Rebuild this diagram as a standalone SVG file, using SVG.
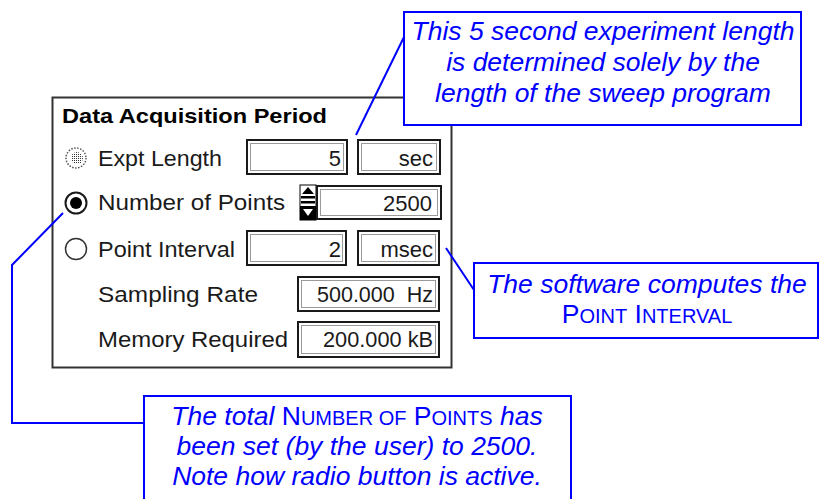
<svg xmlns="http://www.w3.org/2000/svg" width="819" height="499" viewBox="0 0 819 499">
<defs>
<style>
.gui{font-family:"Liberation Sans",Arial,sans-serif;font-size:22px;fill:#1a1a1a}
.title{font-family:"Liberation Sans",Arial,sans-serif;font-size:21px;font-weight:bold;fill:#000}
.val{font-family:"Liberation Sans",Arial,sans-serif;font-size:22px;fill:#1a1a1a;text-anchor:end}
.fo{fill:#fff;stroke:#1a1a1a;stroke-width:2}
.fi{fill:none;stroke:#9a9a9a;stroke-width:1}
.note{font-family:"Liberation Sans",Arial,sans-serif;font-size:26.5px;font-style:italic;fill:#0000ff;text-anchor:middle}
.sc{font-style:normal}
.box{fill:#fff;stroke:#0000ff;stroke-width:2}
.con{fill:none;stroke:#0000ff;stroke-width:2}
</style>
<pattern id="dots" width="2" height="2" patternUnits="userSpaceOnUse"><rect width="1" height="1" fill="#333"/></pattern>
</defs>
<rect width="819" height="499" fill="#fff"/>

<g id="panel">
<rect x="52.5" y="97.5" width="399" height="270" fill="#fff" stroke="#333" stroke-width="2"/>
<text class="title" x="62" y="123" textLength="265" lengthAdjust="spacingAndGlyphs">Data Acquisition Period</text>

<g id="row-expt">
<circle cx="76" cy="158" r="10" fill="none" stroke="#555" stroke-width="1.5" stroke-dasharray="1.5 1.5"/>
<circle cx="77" cy="158" r="6" fill="url(#dots)"/>
<text class="gui" x="98" y="166" textLength="124" lengthAdjust="spacingAndGlyphs">Expt Length</text>
<rect class="fo" x="247" y="140" width="100" height="34"/>
<rect class="fi" x="250.5" y="143.5" width="93" height="27"/>
<text class="val" x="341" y="166">5</text>
<rect class="fo" x="358" y="140" width="82" height="34"/>
<rect class="fi" x="361.5" y="143.5" width="75" height="27"/>
<text class="val" x="433" y="166">sec</text>
</g>

<g id="row-points">
<circle cx="76" cy="203" r="10.5" fill="#fff" stroke="#1a1a1a" stroke-width="2"/>
<circle cx="76" cy="203" r="6" fill="#000"/>
<text class="gui" x="98" y="210" textLength="187" lengthAdjust="spacingAndGlyphs">Number of Points</text>
<rect x="300" y="185" width="16" height="35" fill="#fff" stroke="#000" stroke-width="1"/>
<path d="M302 194 L308 187 L314 194 Z" fill="#000"/>
<rect x="301" y="196" width="14" height="2.5" fill="#000"/>
<rect x="301" y="201" width="14" height="2.5" fill="#000"/>
<rect x="300" y="206" width="16" height="14" fill="#000"/>
<path d="M303 209 L308 216 L313 209 Z" fill="#fff"/>
<rect class="fo" x="317" y="186" width="124" height="33"/>
<rect class="fi" x="320.5" y="189.5" width="117" height="26"/>
<text class="val" x="432" y="211">2500</text>
</g>

<g id="row-interval">
<circle cx="76" cy="249" r="10.5" fill="#fff" stroke="#333" stroke-width="1.5"/>
<text class="gui" x="98" y="257" textLength="137" lengthAdjust="spacingAndGlyphs">Point Interval</text>
<rect class="fo" x="247" y="231" width="99" height="34"/>
<rect class="fi" x="250.5" y="234.5" width="92" height="27"/>
<text class="val" x="341" y="257">2</text>
<rect class="fo" x="358" y="231" width="81" height="34"/>
<rect class="fi" x="361.5" y="234.5" width="74" height="27"/>
<text class="val" x="433" y="257">msec</text>
</g>

<g id="row-rate">
<text class="gui" x="98" y="302" textLength="160" lengthAdjust="spacingAndGlyphs">Sampling Rate</text>
<rect class="fo" x="298" y="277" width="141" height="34"/>
<rect class="fi" x="301.5" y="280.5" width="134" height="27"/>
<text class="val" x="317" y="302" textLength="116" lengthAdjust="spacingAndGlyphs" style="text-anchor:start">500.000&#160; Hz</text>
</g>

<g id="row-memory">
<text class="gui" x="98" y="347" textLength="190" lengthAdjust="spacingAndGlyphs">Memory Required</text>
<rect class="fo" x="298" y="322" width="141" height="35"/>
<rect class="fi" x="301.5" y="325.5" width="134" height="28"/>
<text class="val" x="323" y="347" textLength="110" lengthAdjust="spacingAndGlyphs" style="text-anchor:start">200.000 kB</text>
</g>
</g>

<g id="connectors">
<polyline class="con" points="404,37 356,135"/>
<polyline class="con" points="474,290 446,248"/>
<polyline class="con" points="63,213 12,265 12,423 144,423"/>
</g>

<g id="note-length">
<rect class="box" x="404" y="12" width="397" height="113"/>
<text class="note" x="603" y="40">This 5 second experiment length</text>
<text class="note" x="603" y="71">is determined solely by the</text>
<text class="note" x="603" y="102">length of the sweep program</text>
</g>

<g id="note-interval">
<rect class="box" x="474" y="263" width="344" height="75"/>
<text class="note" x="647" y="293">The software computes the</text>
<text class="note sc" x="647" y="323">P<tspan font-size="20">OINT</tspan> I<tspan font-size="20">NTERVAL</tspan></text>
</g>

<g id="note-points">
<rect class="box" x="144" y="396" width="427" height="110"/>
<text class="note" x="357" y="425">The total <tspan class="sc">N<tspan font-size="20">UMBER OF</tspan> P<tspan font-size="20">OINTS</tspan></tspan> has</text>
<text class="note" x="357" y="455">been set (by the user) to 2500.</text>
<text class="note" x="357" y="485">Note how radio button is active.</text>
</g>
</svg>
